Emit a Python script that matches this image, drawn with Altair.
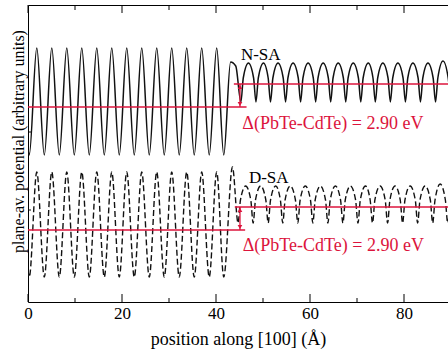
import altair as alt
import pandas as pd

# ---------------- data (x in Å, y in arbitrary units) ----------------
# N-SA (solid curve)
nsa_x = [0.0, 0.27, 1.87, 3.47, 5.06, 6.66, 8.25, 9.85, 11.44, 13.04, 14.63, 16.23, 17.82, 19.42,
         21.01, 22.61, 24.2, 25.8, 27.39, 28.99, 30.58, 32.18, 33.77, 35.37, 36.96, 38.56, 40.15, 41.65,
         43.1, 44.2,
         45.3, 45.8, 46.9, 48.0, 48.5, 49.0, 50.1, 51.1, 51.6, 52.1, 53.2, 54.3, 54.8, 55.3, 56.4, 57.5,
         58.0, 58.5, 59.6, 60.7, 61.2, 61.7, 62.8, 63.9, 64.4, 64.9, 66.0, 67.1, 67.6, 68.1, 69.2, 70.3,
         70.8, 71.3, 72.4, 73.4, 73.9, 74.4, 75.5, 76.6, 77.1, 77.6, 78.7, 79.8, 80.3, 80.8, 81.9, 83.0,
         83.5, 84.0, 85.1, 86.2, 86.7, 87.2, 88.3, 89.4, 89.9]
nsa_y = [152, 147, 254, 147, 254, 147, 254, 147, 254, 147, 254, 147, 254, 147,
         254, 147, 254, 147, 254, 147, 254, 147, 254, 147, 254, 147, 254, 147,
         240, 236,
         200, 224, 239, 224, 200, 224, 239, 224, 200, 224, 239, 224, 200, 224, 239, 224,
         200, 224, 239, 224, 200, 224, 239, 224, 200, 224, 239, 224, 200, 224, 239, 224,
         200, 224, 239, 224, 200, 224, 239, 224, 200, 224, 239, 224, 200, 224, 239, 224,
         200, 224, 239, 224, 200, 224, 241, 224, 200]

# D-SA (dashed curve)
dsa_x = [0.0, 0.27, 1.87, 3.47, 5.06, 6.66, 8.25, 9.85, 11.44, 13.04, 14.63, 16.23, 17.82, 19.42,
         21.01, 22.61, 24.2, 25.8, 27.39, 28.99, 30.58, 32.18, 33.77, 35.37, 36.96, 38.56, 40.15, 41.65,
         43.5,
         44.7, 45.2, 46.3, 47.4, 47.9, 48.4, 49.5, 50.6, 51.1, 51.6, 52.7, 53.7, 54.2, 54.7, 55.8, 56.9,
         57.4, 57.9, 59.0, 60.1, 60.6, 61.1, 62.2, 63.3, 63.8, 64.3, 65.4, 66.5, 67.0, 67.5, 68.6, 69.7,
         70.2, 70.7, 71.8, 72.8, 73.3, 73.8, 74.9, 76.0, 76.5, 77.0, 78.1, 79.2, 79.7, 80.2, 81.3, 82.4,
         82.9, 83.4, 84.5, 85.6, 86.1, 86.6, 87.7, 88.8, 89.3, 89.8]
dsa_y = [32, 25, 130, 25, 130, 25, 130, 25, 130, 25, 130, 25, 130, 25,
         130, 25, 130, 25, 130, 25, 130, 25, 130, 25, 130, 25, 130, 25,
         135,
         79, 102, 116, 102, 79, 102, 116, 102, 79, 102, 116, 102, 79, 102, 116, 102,
         79, 102, 116, 102, 79, 102, 116, 102, 79, 102, 116, 102, 79, 102, 116, 102,
         79, 102, 116, 102, 79, 102, 116, 102, 79, 102, 116, 102, 79, 102, 116, 102,
         79, 102, 116, 102, 79, 102, 118, 102, 79, 102]

# average-potential levels (red lines): start, end, level
lvl_x0 = [0.0, 43.8, 0.0, 44.0]
lvl_x1 = [46.5, 89.4, 46.2, 89.4]
lvl_v = [195, 218, 72, 95]

# offset arrows
arr_x = [45.1, 45.1]
arr_top = [218, 95]
arr_bot = [195, 72]

# labels
lab_text = ["N-SA", "D-SA"]
lab_x = [45.3, 47.0]
lab_y = [242, 119]
dlt_text = ["Δ(PbTe-CdTe) = 2.90 eV", "Δ(PbTe-CdTe) = 2.90 eV"]
dlt_x = [45.6, 45.7]
dlt_y = [173.5, 51.5]

# axis ticks
major_ticks = [0, 20, 40, 60, 80]
minor_ticks = [10, 30, 50, 70]
y_ticks = [170, 92]

X_MAX = 89.36
RED = "#dc143c"
FONT = "Liberation Serif"

xs = alt.Scale(domain=[0, X_MAX], nice=False, zero=False)
ys = alt.Scale(domain=[0, 297], nice=False, zero=False)
yaxis = alt.Axis(title="plane-av. potential (arbitrary units)", labels=False, ticks=False, grid=False,
                 domainColor="black", domainWidth=1, titleFont=FONT, titleFontSize=16,
                 titleFontWeight="normal", titleColor="black", titleY=136, titlePadding=2)

nsa = pd.DataFrame({"x": nsa_x, "v": nsa_y})
dsa = pd.DataFrame({"x": dsa_x, "v": dsa_y})
lv = pd.DataFrame({"x0": lvl_x0, "x1": lvl_x1, "v": lvl_v})
ar = pd.DataFrame({"x": arr_x, "top": arr_top, "bot": arr_bot})
ar["top_h"] = ar["top"] - 3
ar["bot_h"] = ar["bot"] + 3
labs = pd.DataFrame({"t": lab_text, "x": lab_x, "v": lab_y})
dlts = pd.DataFrame({"t": dlt_text, "x": dlt_x, "v": dlt_y})

xaxis = alt.Axis(title="position along [100]  (Å)", values=major_ticks, ticks=False, grid=False,
                 labelFont=FONT, labelFontSize=17, labelColor="black", labelPadding=3,
                 labelFlush=False, labelOverlap=False,
                 titleFont=FONT, titleFontSize=18, titleFontWeight="normal", titleColor="black",
                 titlePadding=9, domainColor="black", domainWidth=1)

curve_n = alt.Chart(nsa).mark_line(clip=True, interpolate="monotone", color="#111111", strokeWidth=1.5).encode(
    x=alt.X("x:Q", scale=xs, axis=xaxis),
    y=alt.Y("v:Q", scale=ys, axis=yaxis),
)
curve_d = alt.Chart(dsa).mark_line(clip=True, interpolate="monotone", color="#111111", strokeWidth=1.4,
                                   strokeDash=[6, 3]).encode(
    x=alt.X("x:Q", scale=xs, axis=None),
    y=alt.Y("v:Q", scale=ys, axis=yaxis),
)
levels = alt.Chart(lv).mark_rule(color=RED, strokeWidth=1.5, clip=True).encode(
    x=alt.X("x0:Q", scale=xs, axis=None), x2="x1:Q",
    y=alt.Y("v:Q", scale=ys, axis=yaxis),
)
arrows = alt.Chart(ar).mark_rule(color=RED, strokeWidth=1.3).encode(
    x=alt.X("x:Q", scale=xs, axis=None),
    y=alt.Y("top:Q", scale=ys, axis=yaxis), y2="bot:Q",
)
head_up = alt.Chart(ar).mark_point(shape="triangle-up", filled=True, color=RED, size=22, opacity=1).encode(
    x=alt.X("x:Q", scale=xs, axis=None),
    y=alt.Y("top_h:Q", scale=ys, axis=yaxis),
)
head_dn = alt.Chart(ar).mark_point(shape="triangle-down", filled=True, color=RED, size=22, opacity=1).encode(
    x=alt.X("x:Q", scale=xs, axis=None),
    y=alt.Y("bot_h:Q", scale=ys, axis=yaxis),
)
lab_layer = alt.Chart(labs).mark_text(align="left", baseline="alphabetic", font=FONT, fontSize=17,
                                      color="black").encode(
    x=alt.X("x:Q", scale=xs, axis=None),
    y=alt.Y("v:Q", scale=ys, axis=yaxis),
    text="t:N",
)
dlt_layer = alt.Chart(dlts).mark_text(align="left", baseline="alphabetic", font=FONT, fontSize=18,
                                      color=RED).encode(
    x=alt.X("x:Q", scale=xs, axis=None),
    y=alt.Y("v:Q", scale=ys, axis=yaxis),
    text="t:N",
)

tmaj = pd.DataFrame({"x": major_ticks})
tmin = pd.DataFrame({"x": minor_ticks})
ytk = pd.DataFrame({"v": y_ticks})

bot_major = alt.Chart(tmaj).mark_rule(color="black", strokeWidth=1).encode(
    x=alt.X("x:Q", scale=xs, axis=None), y=alt.value(297), y2=alt.value(289))
bot_minor = alt.Chart(tmin).mark_rule(color="black", strokeWidth=1).encode(
    x=alt.X("x:Q", scale=xs, axis=None), y=alt.value(297), y2=alt.value(293))
top_major = alt.Chart(tmaj).mark_rule(color="black", strokeWidth=1).encode(
    x=alt.X("x:Q", scale=xs, axis=alt.Axis(orient="top", labels=False, ticks=False, grid=False,
                                            title=None, domainColor="black", domainWidth=1)),
    y=alt.value(0), y2=alt.value(8))
top_minor = alt.Chart(tmin).mark_rule(color="black", strokeWidth=1).encode(
    x=alt.X("x:Q", scale=xs, axis=None), y=alt.value(0), y2=alt.value(5))
left_ticks = alt.Chart(ytk).mark_rule(color="black", strokeWidth=1).encode(
    y=alt.Y("v:Q", scale=ys, axis=yaxis), x=alt.value(0), x2=alt.value(3))

chart = alt.layer(
    curve_n, curve_d, levels, arrows, head_up, head_dn, lab_layer, dlt_layer,
    bot_major, bot_minor, top_major, top_minor, left_ticks,
).resolve_axis(x="independent").properties(
    width=420, height=297,
    autosize=alt.AutoSizeParams(type="none"),
    padding={"left": 28, "top": 5, "right": 0, "bottom": 48},
).configure_view(stroke=None).configure(background="white")

chart.save("out.html", embed_options={"renderer": "svg", "actions": False})
